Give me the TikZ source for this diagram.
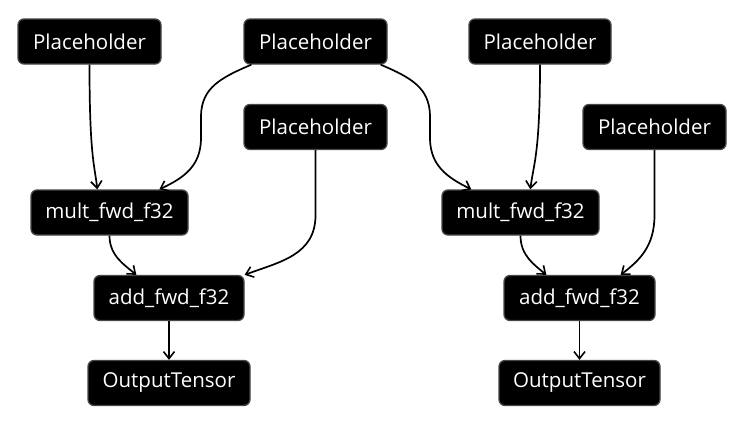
\documentclass[tikz,border=0pt]{standalone}
\usepackage{fontspec}
\setmainfont{Open Sans}
\usetikzlibrary{arrows.meta,calc}
\begin{document}
\begin{tikzpicture}[x=1pt,y=-1pt,
  op/.style={rectangle,rounded corners=6pt,fill=black,draw=black!72,line width=1.3pt,
    text=white,inner sep=0pt,minimum height=45pt,font=\fontsize{20.5}{23}\selectfont},
  edge/.style={line width=1.7pt,-{Straight Barb[length=7pt,width=11pt,line width=1.6pt]}}]
\useasboundingbox (0,0) rectangle (746,426);
\node[op,minimum width=143pt] (p1) at (89.5,41.5) {Placeholder};
\node[op,minimum width=143pt] (p2) at (315.5,41.5) {Placeholder};
\node[op,minimum width=143pt] (p3) at (315.5,127) {Placeholder};
\node[op,minimum width=142pt] (p4) at (540,41.5) {Placeholder};
\node[op,minimum width=143pt] (p5) at (654.5,127) {Placeholder};
\node[op,minimum width=157pt] (m1) at (109.5,212.5) {mult\_fwd\_f32};
\node[op,minimum width=157pt] (m2) at (520.5,212.5) {mult\_fwd\_f32};
\node[op,minimum width=150pt] (a1) at (169,298) {add\_fwd\_f32};
\node[op,minimum width=151pt] (a2) at (579.5,298) {add\_fwd\_f32};
\node[op,minimum width=162pt] (o1) at (169,383) {OutputTensor};
\node[op,minimum width=161pt] (o2) at (579.5,383) {OutputTensor};
% edges
\draw[edge] (p1.south) .. controls +(0,90) and +(-3,-25) .. ($(m1.north west)+(67,0)$);
\draw[edge] ($(p2.south west)+(8,0)$) .. controls (220,78) and (202,88) .. (201,115)
  -- (201,140) .. controls (200,165) and (186,177) .. ($(m1.north west)+(129,0)$);
\draw[edge] ($(p2.south east)+(-7,0)$) .. controls (412,78) and (429,88) .. (430,115)
  -- (430,140) .. controls (431,165) and (446,177) .. ($(m2.north west)+(30,0)$);
\draw[edge] (p4.south) .. controls +(0,90) and +(3,-25) .. ($(m2.north west)+(89,0)$);
\draw[edge] (m1.south) .. controls +(0,20) and +(-12,-10) .. ($(a1.north west)+(43,0)$);
\draw[edge] (p3.south) -- ++(0,65) .. controls +(0,40) and +(35,-13) .. (a1.north east);
\draw[edge] (a1) -- (o1);
\draw[edge] (m2.south) .. controls +(0,20) and +(-12,-10) .. ($(a2.north west)+(43,0)$);
\draw[edge] (p5.south) -- ++(0,65) .. controls +(0,32) and +(18,-14) .. ($(a2.north east)+(-35,0)$);
\draw[edge] (a2) -- (o2);
\end{tikzpicture}
\end{document}
